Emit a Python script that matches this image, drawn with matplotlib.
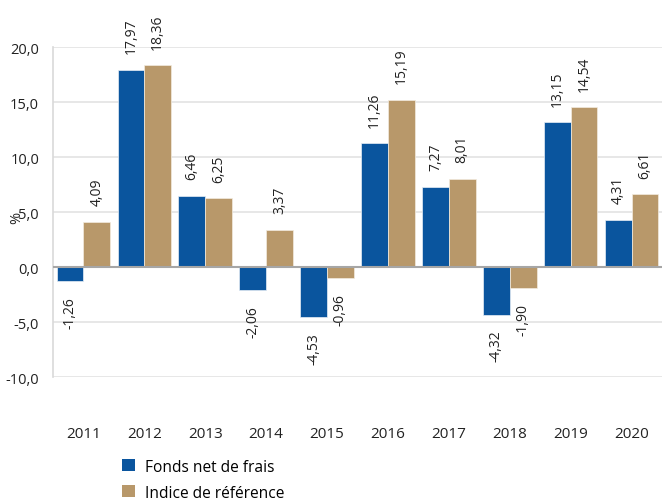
import numpy as np
import matplotlib
matplotlib.use("Agg")
import matplotlib.pyplot as plt
from matplotlib.patches import Patch

years = ["2011", "2012", "2013", "2014", "2015", "2016", "2017", "2018", "2019", "2020"]
fonds = [-1.26, 17.97, 6.46, -2.06, -4.53, 11.26, 7.27, -4.32, 13.15, 4.31]
indice = [4.09, 18.36, 6.25, 3.37, -0.96, 15.19, 8.01, -1.90, 14.54, 6.61]
series_names = ["Fonds net de frais", "Indice de référence"]
yticks = [-10, -5, 0, 5, 10, 15, 20]

blue = "#0A559E"
tan = "#B8986A"

plt.rcParams["font.family"] = ["Open Sans", "DejaVu Sans"]


def fr(v, nd=2):
    return f"{v:.{nd}f}".replace(".", ",")


fig = plt.figure(figsize=(6.62, 5.02), dpi=100)
ax = fig.add_axes([0.080, 0.247, 0.92, 0.657])

x = np.arange(len(years))
w = 0.44
b1 = ax.bar(x - w / 2, fonds, w, color=blue, edgecolor="#E8EEF5", linewidth=0.5, zorder=3)
b2 = ax.bar(x + w / 2, indice, w, color=tan, edgecolor="#F3ECE0", linewidth=0.5, zorder=3)

for bars, vals in [(b1, fonds), (b2, indice)]:
    for rect, v in zip(bars, vals):
        cx = rect.get_x() + rect.get_width() / 2
        if v >= 0:
            ax.annotate(fr(v), (cx, v), xytext=(0, 12), textcoords="offset points",
                        rotation=90, ha="center", va="bottom", fontsize=10, color="#222222")
        else:
            ax.annotate(fr(v), (cx, v), xytext=(0, -11), textcoords="offset points",
                        rotation=90, ha="center", va="top", fontsize=10, color="#222222")

ax.set_xlim(-0.5, len(years) - 0.5)
ax.set_ylim(-10, 20)
ax.set_yticks(yticks)
ax.set_yticklabels([fr(t, 1) for t in yticks], fontsize=10.5, color="#222222")
ax.set_xticks(x)
ax.set_xticklabels(years, fontsize=11, color="#222222")
ax.tick_params(axis="both", length=0)
ax.tick_params(axis="x", pad=35)
ax.tick_params(axis="y", pad=10)

ax.grid(axis="y", color="#E3E3E3", linewidth=1.2, zorder=0)
ax.axhline(0, color="#A6A6A6", linewidth=1.5, zorder=4)
for s in ["top", "right", "bottom"]:
    ax.spines[s].set_visible(False)
ax.spines["left"].set_color("#D9D9D9")
ax.spines["left"].set_linewidth(1.2)

fig.text(0.026, 0.565, "%", rotation=90, ha="center", va="center", fontsize=10.5, color="#222222")

handles = [Patch(facecolor=blue), Patch(facecolor=tan)]
fig.legend(handles, series_names, loc="upper left", bbox_to_anchor=(0.175, 0.097),
           frameon=False, fontsize=11.2, handlelength=0.8, handleheight=0.8,
           handletextpad=0.7, labelspacing=0.65, borderaxespad=0)

fig.savefig("out.png", dpi=100)
